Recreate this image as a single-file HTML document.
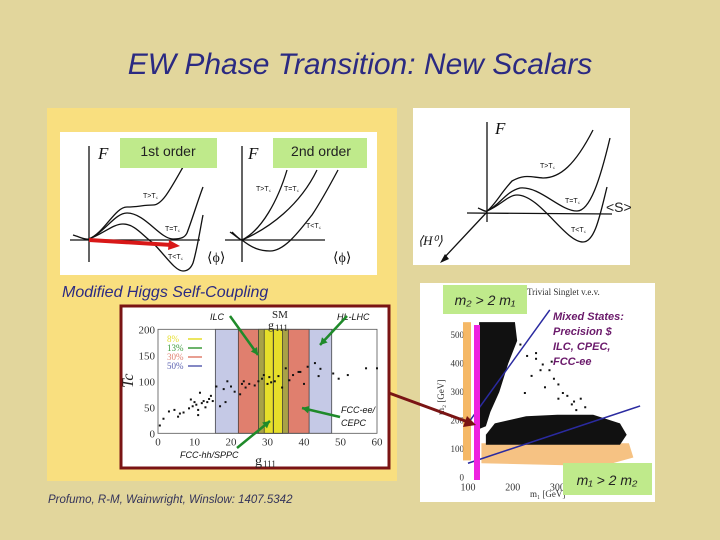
<!DOCTYPE html>
<html><head><meta charset="utf-8"><style>
html,body{margin:0;padding:0;background:#e2d69c;width:720px;height:540px;overflow:hidden}
svg{display:block;font-family:"Liberation Sans",sans-serif}
</style></head><body>
<svg id="s" width="720" height="540" viewBox="0 0 720 540">
<rect x="0" y="0" width="720" height="540" fill="#e2d69c"/>
<text x="360" y="74" text-anchor="middle" font-size="30" font-style="italic" fill="#2b2a82">EW Phase Transition: New Scalars</text>
<rect x="47" y="108" width="350" height="373" fill="#f9df7f"/>
<g fill="none" stroke="#111" stroke-width="1.3">
<rect x="60" y="132" width="317" height="143" fill="#fff" stroke="none"/>
<line x1="70" y1="240" x2="200" y2="240"/><line x1="89" y1="262" x2="89" y2="146"/>
<path d="M73,235 C80,237 85,240 89,239 C105,232 115,207 127,207 C138,207 143,205 153,205 C162,205 170,190 183,167"/>
<path d="M89,239 C105,232 115,213 127,213 C145,213 160,239 173,239 C182,239 185,237 187,233 C192,220 198,200 203,187"/>
<path d="M89,239 C103,234 113,224 123,224 C135,224 143,236 153,243 C165,255 175,271 183,271 C188,271 191,268 193,263 C197,250 200,230 203,215"/>
<line x1="225" y1="240" x2="325" y2="240"/><line x1="242" y1="262" x2="242" y2="146"/>
<path d="M230,232 C236,236 240,240 242,240 C262,230 278,200 287,170"/>
<path d="M242,240 C270,228 300,205 317,170"/>
<path d="M232,232 C236,236 240,240 242,240 C252,248 260,251 270,251 C285,251 300,230 312,215 C322,200 330,185 338,170"/>
</g>
<line x1="89" y1="240" x2="172" y2="245" stroke="#d81818" stroke-width="4"/>
<polygon points="180,246 169,240 168,250" fill="#d81818"/>
<g font-size="7" fill="#111">
<text x="143" y="198">T&gt;T꜀</text><text x="165" y="231">T=T꜀</text><text x="168" y="259">T&lt;T꜀</text>
<text x="256" y="191">T&gt;T꜀</text><text x="284" y="191">T=T꜀</text><text x="306" y="228">T&lt;T꜀</text>
<text x="98" y="159" font-size="17" font-style="italic" font-family="Liberation Serif">F</text>
<text x="248" y="159" font-size="17" font-style="italic" font-family="Liberation Serif">F</text>
<text x="207" y="262" font-size="14" font-family="Liberation Serif">⟨ϕ⟩</text>
<text x="333" y="262" font-size="14" font-family="Liberation Serif">⟨ϕ⟩</text>
</g>
<rect x="120" y="138" width="97" height="30" fill="#bfea8b"/>
<text x="168" y="156" text-anchor="middle" font-size="14" fill="#222">1st order</text>
<rect x="273" y="138" width="94" height="30" fill="#bfea8b"/>
<text x="321" y="156" text-anchor="middle" font-size="14" fill="#222">2nd order</text>
<g fill="none" stroke="#111" stroke-width="1.3">
<rect x="413" y="108" width="217" height="157" fill="#fff" stroke="none"/>
<line x1="467" y1="213" x2="612" y2="214"/><line x1="487" y1="222" x2="487" y2="122"/>
<line x1="487" y1="212" x2="443" y2="259"/>
<path d="M478,208 C483,210 485,212 487,211 C495,205 500,194 512,181 C525,174 530,177 543,178 C560,178 575,165 593,130"/>
<path d="M487,211 C500,205 505,192 520,188 C540,186 560,211 577,211 C590,211 600,180 610,138"/>
<path d="M487,211 C500,206 508,195 517,195 C540,195 565,242 583,242 C595,242 600,215 607,187"/>
</g>
<polygon points="440,263 445,254 449,259" fill="#111"/>
<g fill="#111">
<text x="495" y="134" font-size="17" font-style="italic" font-family="Liberation Serif">F</text>
<text x="540" y="168" font-size="7">T&gt;T꜀</text><text x="565" y="203" font-size="7">T=T꜀</text><text x="571" y="232" font-size="7">T&lt;T꜀</text>
<text x="418" y="245" font-size="13" font-style="italic" font-family="Liberation Serif">⟨H⁰⟩</text>
</g>
<text x="606" y="212" font-size="14" fill="#222">&lt;S&gt;</text>
<text x="62" y="297" font-size="16" font-style="italic" fill="#2b2a82">Modified Higgs Self-Coupling</text>
<rect x="121" y="306" width="268" height="162" fill="#fff" stroke="#7a1414" stroke-width="3"/>
<g id="tc"></g>
<text x="48" y="503" font-size="11.5" font-style="italic" fill="#33335a">Profumo, R-M, Wainwright, Winslow: 1407.5342</text>
<rect x="420" y="283" width="235" height="219" fill="#fff"/>
<g id="ms"></g>
<rect x="443" y="285" width="84" height="29" fill="#bfea8b"/>
<text x="485" y="305" text-anchor="middle" font-size="14" font-style="italic" fill="#222">m₂ &gt; 2 m₁</text>
<rect x="563" y="463" width="89" height="32" fill="#bfea8b"/>
<text x="607" y="485" text-anchor="middle" font-size="14" font-style="italic" fill="#222">m₁ &gt; 2 m₂</text>
<g font-size="11" font-weight="bold" font-style="italic" fill="#6b1a6b">
<text x="553" y="320">Mixed States:</text><text x="553" y="335">Precision $</text><text x="553" y="350">ILC, CPEC,</text><text x="553" y="365">FCC-ee</text></g>
<line x1="389" y1="393" x2="468" y2="422" stroke="#7a1414" stroke-width="3"/>
<polygon points="476,425 463,427 467,416" fill="#7a1414"/>
</svg>
<script>
const NS="http://www.w3.org/2000/svg";
const tcG=[0.5,1.5,3,4.5,5.5,6,7,8.5,9,9.5,10,10.5,11,11,11.5,12,12.5,13,13.5,14,14.5,15,16,17,18,18.5,19,20,21,22.5,23,23.5,24,25,26.5,27.5,28.5,29,30,30.5,31,32,33,34,35,36,37,38.5,39,40,41,43,44,44.5,48,49.5,52,57,60];
const tcT=[15,28,42,45,32,38,40,48,65,52,60,55,35,45,78,58,62,50,60,66,72,62,90,52,85,60,100,90,80,75,95,100,88,95,92,100,105,112,95,108,98,100,110,88,125,102,112,118,118,95,128,135,110,124,115,105,112,125,125];
const tcBands=[[15.7,47.6,"#c5c9e6"],[22,41.4,"#e07f6e"],[27.5,35.7,"#a8a246"],[29.1,34.1,"#e6de2a"]];
const tcXTicks=[0,10,20,30,40,50,60];
const tcYTicks=[0,50,100,150,200];
const gx=v=>158+v*3.65, ty=v=>433.3-v*0.52;
const tc=document.getElementById('tc');
function mk(p,tag,a){const e=document.createElementNS(NS,tag);for(const k in a)e.setAttribute(k,a[k]);p.appendChild(e);return e;}
tcBands.forEach((b,i)=>{const r=mk(tc,'rect',{x:gx(b[0]),y:ty(200),width:gx(b[1])-gx(b[0]),height:ty(0)-ty(200),fill:b[2],stroke:'#333','stroke-width':0.7});

});
const sm=mk(tc,'line',{x1:gx(31.6),x2:gx(31.6),y1:ty(200),y2:ty(0),stroke:'#333','stroke-width':1});


mk(tc,'rect',{x:gx(0),y:ty(200),width:gx(60)-gx(0),height:ty(0)-ty(200),fill:'none',stroke:'#555','stroke-width':0.8});
tcXTicks.forEach(v=>{const t=mk(tc,'text',{x:gx(v),y:ty(0)+12,'text-anchor':'middle','font-size':11,'font-family':'Liberation Serif',fill:'#333'});t.textContent=v;

});
tcYTicks.forEach(v=>{const t=mk(tc,'text',{x:gx(0)-3,y:ty(v)+4,'text-anchor':'end','font-size':11,'font-family':'Liberation Serif',fill:'#333'});t.textContent=v;

});
tcG.forEach((g,i)=>{const c=mk(tc,'rect',{x:gx(g)-1,y:ty(tcT[i])-1,width:2,height:2,fill:'#111'});

});
const leg=[["8%","#e6de2a"],["13%","#3a9a3a"],["30%","#e07f6e"],["50%","#5a60b0"]];
leg.forEach((l,i)=>{const t=mk(tc,'text',{x:167,y:342+i*9,'font-size':9,'font-family':'Liberation Serif',fill:l[1]});t.textContent=l[0];


mk(tc,'line',{x1:188,x2:202,y1:339+i*9,y2:339+i*9,stroke:l[1],'stroke-width':1.5});});
[["SM",272,318,11],["g",268,329,12],["111",275,331,9],["g",255,465,14],["111",263,467,9]].forEach(a=>{const t=mk(tc,'text',{x:a[1],y:a[2],'font-size':a[3],'font-family':'Liberation Serif',fill:'#222'});t.textContent=a[0];

});
const tl=mk(tc,'text',{x:133,y:388,'font-size':16,'font-style':'italic','font-family':'Liberation Serif',fill:'#222',transform:'rotate(-90 133 388)'});tl.textContent='Tc';


[["ILC",210,320],["HL-LHC",337,320],["FCC-ee/",341,413],["CEPC",341,426],["FCC-hh/SPPC",180,458]].forEach(a=>{const t=mk(tc,'text',{x:a[1],y:a[2],'font-size':9,'font-style':'italic',fill:'#111'});t.textContent=a[0];

});
[[230,316,258,355],[347,316,320,345],[340,417,302,408],[237,448,270,421]].forEach(a=>{const l=mk(tc,'line',{x1:a[0],y1:a[1],x2:a[2],y2:a[3],stroke:'#1f8a2a','stroke-width':2.5});


const ang=Math.atan2(a[3]-a[1],a[2]-a[0]);const p=[[a[2],a[3]],[a[2]-8*Math.cos(ang-0.5),a[3]-8*Math.sin(ang-0.5)],[a[2]-8*Math.cos(ang+0.5),a[3]-8*Math.sin(ang+0.5)]];
mk(tc,'polygon',{points:p.map(q=>q.join(',')).join(' '),fill:'#1f8a2a'});});
// mass scatter
const mx=v=>468+(v-100)*0.447, my=v=>477.5-v*0.285;
const msXTicks=[100,200,300];
const msYTicks=[0,100,200,300,400,500];
const sparseM1=[215,230,250,265,280,290,300,310,320,335,340,250,260,270,300,330,240,225,285,350,360];
const sparseM2=[470,430,440,400,380,350,330,300,290,270,240,420,380,320,280,260,360,300,410,280,250];
const ms=document.getElementById('ms');
msXTicks.forEach(v=>{const t=mk(ms,'text',{x:mx(v),y:my(0)+13,'text-anchor':'middle','font-size':10,'font-family':'Liberation Serif',fill:'#333'});t.textContent=v;

});
msYTicks.forEach(v=>{const t=mk(ms,'text',{x:mx(100)-4,y:my(v)+3,'text-anchor':'end','font-size':9,'font-family':'Liberation Serif',fill:'#333'});t.textContent=v;

});
const or1=mk(ms,'rect',{x:mx(100)-5,y:my(545),width:8,height:my(60)-my(545),fill:'#f3a640',opacity:0.8});


const or2=mk(ms,'path',{d:`M${mx(130)},${my(120)} L${mx(460)},${my(120)} L${mx(470)},${my(70)} L${mx(400)},${my(40)} L${mx(130)},${my(50)} Z`,fill:'#f6c283'});


const c1=mk(ms,'path',{d:`M${mx(125)},${my(545)} L${mx(205)},${my(545)} L${mx(210)},${my(480)} L${mx(190)},${my(400)} L${mx(170)},${my(300)} L${mx(150)},${my(230)} L${mx(140)},${my(180)} L${mx(125)},${my(170)} Z`,fill:'#111'});


const c2=mk(ms,'path',{d:`M${mx(140)},${my(150)} L${mx(160)},${my(190)} L${mx(230)},${my(215)} L${mx(300)},${my(220)} L${mx(380)},${my(220)} L${mx(440)},${my(190)} L${mx(455)},${my(150)} L${mx(440)},${my(115)} L${mx(140)},${my(115)} Z`,fill:'#111'});


sparseM1.forEach((v,i)=>{const r=mk(ms,'rect',{x:mx(v),y:my(sparseM2[i]),width:2,height:2,fill:'#111'});

});
[[100,190,283,588],[100,50,485,251]].forEach(a=>{const l=mk(ms,'line',{x1:mx(a[0]),y1:my(a[1]),x2:mx(a[2]),y2:my(a[3]),stroke:'#2a2aa0','stroke-width':1.5});

});
const mg=mk(ms,'rect',{x:474,y:325,width:6,height:155,fill:'#ee22e0'});


const tt=mk(ms,'text',{x:527,y:295,'font-size':9,'font-family':'Liberation Serif',fill:'#333'});tt.textContent='Trivial Singlet v.e.v.';


const xl=mk(ms,'text',{x:530,y:497,'font-size':9,'font-family':'Liberation Serif',fill:'#333'});xl.textContent='m₁ [GeV]';


const yl=mk(ms,'text',{x:444,y:415,'font-size':9,'font-family':'Liberation Serif',fill:'#333',transform:'rotate(-90 444 415)'});yl.textContent='m₂ [GeV]';


</script>
</body></html>
